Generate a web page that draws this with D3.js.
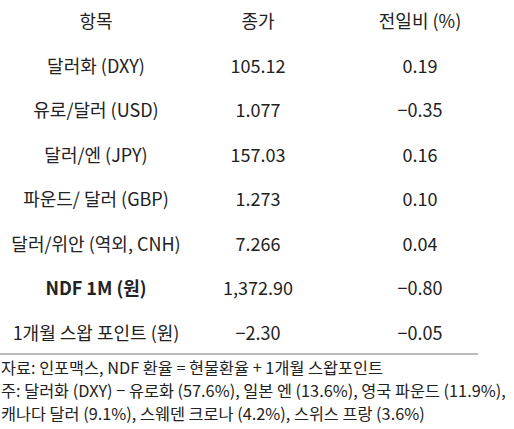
<!DOCTYPE html><html><head><meta charset="utf-8"><script src="https://cdn.jsdelivr.net/npm/d3@7"></script>
<style>body{margin:0;background:#fff}</style></head><body><script>
const headers=["항목","종가","전일비 (%)"];
const items=["달러화 (DXY)","유로/달러 (USD)","달러/엔 (JPY)","파운드/ 달러 (GBP)","달러/위안 (역외, CNH)","NDF 1M (원)","1개월 스왑 포인트 (원)"];
const closes=["105.12","1.077","157.03","1.273","7.266","1,372.90","−2.30"];
const changes=["0.19","−0.35","0.16","0.10","0.04","−0.80","−0.05"];
const notes=["자료: 인포맥스, NDF 환율 = 현물환율 + 1개월 스왑포인트","주: 달러화 (DXY) − 유로화 (57.6%), 일본 엔 (13.6%), 영국 파운드 (11.9%),","캐나다 달러 (9.1%), 스웨덴 크로나 (4.2%), 스위스 프랑 (3.6%)"];
const svg=d3.select("body").append("svg").attr("width",514).attr("height",429).style("font-family","'Noto Sans CJK KR','Noto Sans',sans-serif");
const x=d3.scalePoint().domain([0,1,2]).range([96,420]);
const y=d3.scaleLinear().domain([0,7]).range([28,340]);
headers.forEach((h,i)=>svg.append("text").attr("x",x(i)).attr("y",y(0)).attr("text-anchor","middle").attr("font-size",18).attr("fill","#222").text(h));
items.forEach((it,r)=>{[it,closes[r],changes[r]].forEach((t,c)=>svg.append("text").attr("x",x(c)).attr("y",y(r+1)).attr("text-anchor","middle").attr("font-size",18).attr("font-weight",(r==5&&c==0)?"bold":"normal").attr("fill","#222").text(t));});
svg.append("line").attr("x1",0).attr("x2",478).attr("y1",354).attr("y2",354).attr("stroke","#bbb").attr("stroke-width",2);
notes.forEach((n,i)=>svg.append("text").attr("x",1).attr("y",374+i*23).attr("font-size",16.3).attr("fill","#222").text(n));
</script></body></html>
